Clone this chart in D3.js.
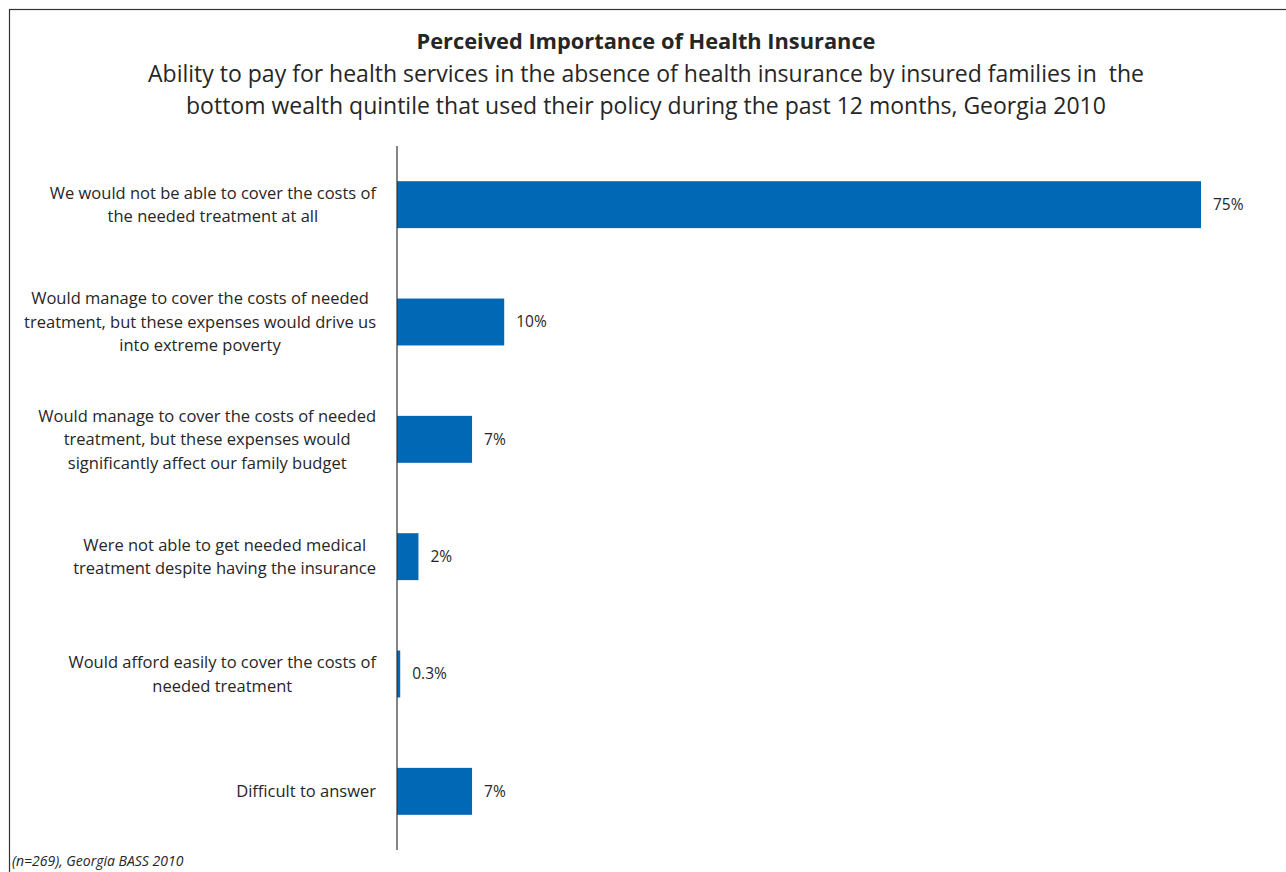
<!DOCTYPE html>
<html>
<head>
<meta charset="utf-8">
<script src="https://cdn.jsdelivr.net/npm/d3@7"></script>
<style>
  html, body { margin: 0; padding: 0; background: #fff; }
  svg { display: block; font-family: "Open Sans", "Noto Sans", sans-serif; }
</style>
</head>
<body>
<svg id="chart" width="1286" height="872"></svg>
<script>
// Survey answers (each entry is one wrapped label, line by line)
const categories = [
  ["We would not be able to cover the costs of", "the needed treatment at all"],
  ["Would manage to cover the costs of needed", "treatment, but these expenses would drive us", "into extreme poverty"],
  ["Would manage to cover the costs of needed", "treatment, but these expenses would", "significantly affect our family budget"],
  ["Were not able to get needed medical", "treatment despite having the insurance"],
  ["Would afford easily to cover the costs of", "needed treatment"],
  ["Difficult to answer"]
];
const values = [75, 10, 7, 2, 0.3, 7];
const valueLabels = ["75%", "10%", "7%", "2%", "0.3%", "7%"];

const title = "Perceived Importance of Health Insurance";
const subtitle = [
  "Ability to pay for health services in the absence of health insurance by insured families in  the",
  "bottom wealth quintile that used their policy during the past 12 months, Georgia 2010"
];
const footnote = "(n=269), Georgia BASS 2010";

const svg = d3.select("#chart");
const textColor = "#262626";
const barColor = "#0068b4";

// outer frame (runs off the right and bottom edges)
svg.append("rect")
  .attr("x", 9.5).attr("y", 9.5)
  .attr("width", 1300).attr("height", 900)
  .attr("fill", "none").attr("stroke", "#333").attr("stroke-width", 1.2);

// titles
svg.append("text")
  .attr("x", 646).attr("y", 49)
  .attr("text-anchor", "middle")
  .attr("font-size", 21.8).attr("font-weight", "bold")
  .attr("fill", textColor)
  .text(title);

svg.append("g").selectAll("text")
  .data(subtitle).join("text")
  .attr("x", 646).attr("y", (d, i) => 82 + i * 32)
  .attr("text-anchor", "middle")
  .attr("font-size", 23)
  .attr("fill", textColor)
  .style("white-space", "pre")
  .text(d => d);

// scales
const x0 = 397;
const x = d3.scaleLinear().domain([0, 75]).range([x0, 1201]);
const y = d3.scaleBand()
  .domain(d3.range(categories.length))
  .range([146, 850])
  .paddingInner(0.6)
  .paddingOuter(0.3);

// bars
svg.append("g").selectAll("rect")
  .data(values).join("rect")
  .attr("x", x(0))
  .attr("y", (d, i) => y(i))
  .attr("width", d => x(d) - x(0))
  .attr("height", y.bandwidth())
  .attr("fill", barColor);

// value labels
svg.append("g").selectAll("text")
  .data(values).join("text")
  .attr("x", d => x(d) + 12)
  .attr("y", (d, i) => y(i) + y.bandwidth() / 2)
  .attr("dy", "0.35em")
  .attr("font-size", 15.5)
  .attr("fill", textColor)
  .text((d, i) => valueLabels[i]);

// vertical axis line
const yAxis = d3.axisLeft(y).tickSize(0).tickFormat("");
svg.append("g")
  .attr("transform", `translate(${x0},0)`)
  .call(yAxis)
  .call(g => g.select(".domain").attr("stroke", "#333").attr("stroke-width", 1.2)
    .attr("d", "M0,146V850"));

// category labels: each block is centred on itself and right-aligned to the axis gap
const lineH = 23.5;
const labelRight = 376;
const labelG = svg.append("g");
categories.forEach((lines, i) => {
  const cy = y(i) + y.bandwidth() / 2;
  const top = cy - (lines.length - 1) * lineH / 2;
  const texts = labelG.selectAll(null)
    .data(lines).join("text")
    .attr("y", (d, j) => top + j * lineH)
    .attr("dy", "0.35em")
    .attr("text-anchor", "middle")
    .attr("font-size", 16.5)
    .attr("fill", textColor)
    .text(d => d);
  const maxW = d3.max(texts.nodes(), n => n.getComputedTextLength());
  texts.attr("x", labelRight - maxW / 2);
});

// footnote
svg.append("text")
  .attr("x", 12).attr("y", 866)
  .attr("font-size", 14).attr("font-style", "italic")
  .attr("fill", textColor)
  .text(footnote);
</script>
</body>
</html>
